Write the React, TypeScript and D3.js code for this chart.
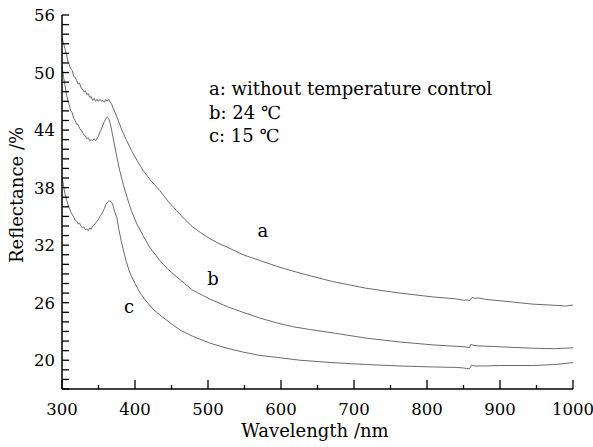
import React, { useEffect, useRef } from 'react'
import * as d3 from 'd3'

// wavelength (nm) / reflectance (%)
const wlA = [300, 302, 304, 306, 308, 310, 312, 314, 316, 318, 320, 322, 324, 326, 328, 330, 332, 334, 336, 338, 340, 342, 344, 346, 348, 350, 352, 354, 356, 358, 360, 362, 364, 366, 368, 370, 373, 377, 382, 388, 395, 403, 411, 422, 434, 445, 457, 468, 479, 490, 502, 514, 526, 548, 571, 594, 616, 640, 671, 717, 763, 808, 840, 850, 855, 858, 862, 866, 870, 880, 900, 945, 982, 990, 1000]
const refA = [53.6, 53.1, 52.5, 51.9, 51.2, 50.8, 50.4, 50.2, 49.6, 49.5, 49.2, 48.8, 48.9, 48.4, 48.3, 48.0, 48.1, 47.7, 47.8, 47.4, 47.5, 47.1, 47.3, 47.0, 47.2, 47.0, 47.2, 47.0, 47.1, 46.9, 47.2, 47.0, 47.2, 46.9, 46.7, 46.3, 45.8, 45.0, 44.0, 43.0, 41.9, 40.8, 39.8, 38.7, 37.7, 36.6, 35.6, 34.7, 33.9, 33.3, 32.7, 32.2, 31.8, 31.0, 30.4, 29.8, 29.3, 28.8, 28.2, 27.5, 27.0, 26.6, 26.4, 26.25, 26.3, 26.2, 26.55, 26.45, 26.5, 26.35, 26.2, 25.85, 25.7, 25.65, 25.75]

const wlB = [300, 302, 304, 306, 308, 310, 312, 314, 316, 318, 320, 322, 324, 326, 328, 330, 332, 334, 336, 338, 340, 342, 344, 346, 348, 350, 352, 354, 356, 358, 360, 362, 364, 366, 368, 370, 373, 376, 379, 384, 389, 395, 402, 411, 420, 434, 445, 457, 468, 479, 502, 526, 548, 571, 594, 616, 640, 671, 717, 763, 808, 840, 852, 856, 858, 860, 864, 870, 900, 945, 975, 1000]
const refB = [50.6, 49.6, 48.7, 47.8, 47.1, 46.6, 46.0, 45.8, 45.2, 45.0, 44.6, 44.6, 44.2, 44.0, 43.8, 43.5, 43.4, 43.1, 43.2, 42.9, 43.0, 42.9, 43.1, 42.9, 43.1, 43.4, 43.8, 44.1, 44.5, 44.9, 45.2, 45.35, 45.2, 44.7, 44.0, 43.2, 42.0, 40.9, 39.8, 38.3, 37.0, 35.6, 34.3, 33.0, 31.8, 30.4, 29.5, 28.7, 28.0, 27.3, 26.4, 25.6, 25.0, 24.4, 23.9, 23.5, 23.2, 22.85, 22.3, 21.9, 21.6, 21.45, 21.4, 21.35, 21.3, 21.65, 21.55, 21.5, 21.4, 21.25, 21.2, 21.3]

const wlC = [300, 302, 304, 306, 308, 310, 312, 314, 316, 318, 320, 322, 324, 326, 328, 330, 332, 334, 336, 338, 340, 342, 344, 346, 348, 350, 352, 354, 356, 358, 360, 362, 364, 366, 368, 370, 372, 375, 378, 381, 384, 388, 393, 400, 407, 416, 425, 436, 448, 463, 479, 502, 526, 548, 571, 594, 626, 671, 717, 763, 808, 840, 849, 854, 858, 861, 865, 880, 900, 945, 975, 1000]
const refC = [39.2, 38.2, 37.4, 36.8, 36.3, 35.9, 35.5, 35.2, 34.9, 34.6, 34.5, 34.2, 34.3, 34.0, 33.8, 33.9, 33.6, 33.7, 33.5, 33.8, 33.7, 34.0, 34.1, 34.3, 34.5, 34.7, 35.0, 35.2, 35.5, 35.8, 36.2, 36.45, 36.6, 36.6, 36.5, 36.1, 35.5, 34.9, 33.6, 32.5, 31.5, 30.3, 29.1, 28.0, 27.0, 26.1, 25.3, 24.6, 23.9, 23.1, 22.5, 21.8, 21.25, 20.85, 20.5, 20.3, 20.0, 19.75, 19.55, 19.4, 19.3, 19.25, 19.2, 19.15, 19.1, 19.5, 19.4, 19.4, 19.45, 19.45, 19.55, 19.75]

const xTickLabels = [300, 400, 500, 600, 700, 800, 900, 1000]
const yTickLabels = [20, 26, 32, 38, 44, 50, 56]
const legendLines = ['a: without temperature control', 'b: 24 \u2103', 'c: 15 \u2103']
const curveNames = ['a', 'b', 'c']
// where the a/b/c tags sit, in data units (wavelength, reflectance)
const curveLabelWl = [575, 507, 392]
const curveLabelRef = [32.8, 27.8, 24.9]

const FONT = '"DejaVu Serif", "Liberation Serif", serif'

export default function App() {
  const ref = useRef<SVGSVGElement | null>(null)

  useEffect(() => {
    const svg = d3.select(ref.current)
    svg.selectAll('*').remove()

    const x = d3.scaleLinear().domain([300, 1000]).range([62, 573])
    const y = d3.scaleLinear().domain([17, 56]).range([389, 15])

    const line = d3.line<[number, number]>()
      .x(d => x(d[0]))
      .y(d => y(d[1]))

    const series = [
      d3.zip(wlA, refA),
      d3.zip(wlB, refB),
      d3.zip(wlC, refC),
    ] as [number, number][][]

    svg.append('g')
      .selectAll('path')
      .data(series)
      .enter()
      .append('path')
      .attr('d', d => line(d))
      .attr('fill', 'none')
      .attr('stroke', '#5a5a5a')
      .attr('stroke-width', 0.9)

    // x axis, ticks inward
    const xAxis = svg.append('g')
    xAxis.append('line')
      .attr('x1', x(300)).attr('x2', x(1000))
      .attr('y1', y(17)).attr('y2', y(17))
      .attr('stroke', '#000').attr('stroke-width', 1.5)
    xAxis.selectAll('.xt')
      .data(d3.range(300, 1001, 50))
      .enter()
      .append('line')
      .attr('x1', d => x(d)).attr('x2', d => x(d))
      .attr('y1', y(17))
      .attr('y2', d => y(17) - (d % 100 === 0 ? 9 : 4))
      .attr('stroke', '#000').attr('stroke-width', 1.3)
    xAxis.selectAll('text')
      .data(xTickLabels)
      .enter()
      .append('text')
      .attr('x', d => x(d))
      .attr('y', 415)
      .attr('text-anchor', 'middle')
      .attr('font-family', FONT)
      .attr('font-size', 16.5)
      .text(d => d)

    // y axis
    const yAxis = svg.append('g')
    yAxis.append('line')
      .attr('x1', x(300)).attr('x2', x(300))
      .attr('y1', y(17)).attr('y2', y(56))
      .attr('stroke', '#000').attr('stroke-width', 1.5)
    yAxis.selectAll('.yt')
      .data(d3.range(17, 57, 1))
      .enter()
      .append('line')
      .attr('x1', x(300))
      .attr('x2', x(300) + 7)
      .attr('y1', d => y(d)).attr('y2', d => y(d))
      .attr('stroke', '#000').attr('stroke-width', 1.3)
    yAxis.selectAll('text')
      .data(yTickLabels)
      .enter()
      .append('text')
      .attr('x', 55)
      .attr('y', d => y(d) + 6)
      .attr('text-anchor', 'end')
      .attr('font-family', FONT)
      .attr('font-size', 16.5)
      .text(d => d)

    // axis titles
    svg.append('text')
      .attr('x', 315).attr('y', 437)
      .attr('text-anchor', 'middle')
      .attr('font-family', FONT)
      .attr('font-size', 18)
      .text('Wavelength /nm')
    svg.append('text')
      .attr('transform', 'translate(23,195) rotate(-90)')
      .attr('text-anchor', 'middle')
      .attr('font-family', FONT)
      .attr('font-size', 18)
      .text('Reflectance /%')

    // legend
    svg.append('g')
      .selectAll('text')
      .data(legendLines)
      .enter()
      .append('text')
      .attr('x', 209)
      .attr('y', (d, i) => 95 + i * 23.5)
      .attr('font-family', FONT)
      .attr('font-size', 18)
      .text(d => d)

    // curve labels
    svg.append('g')
      .selectAll('text')
      .data(curveNames)
      .enter()
      .append('text')
      .attr('x', (d, i) => x(curveLabelWl[i]))
      .attr('y', (d, i) => y(curveLabelRef[i]))
      .attr('text-anchor', 'middle')
      .attr('font-family', FONT)
      .attr('font-size', 18)
      .text(d => d)
  }, [])

  return (
    <svg ref={ref} width={593} height={447}
      style={{ position: 'absolute', left: 0, top: 0, background: '#fff' }} />
  )
}
